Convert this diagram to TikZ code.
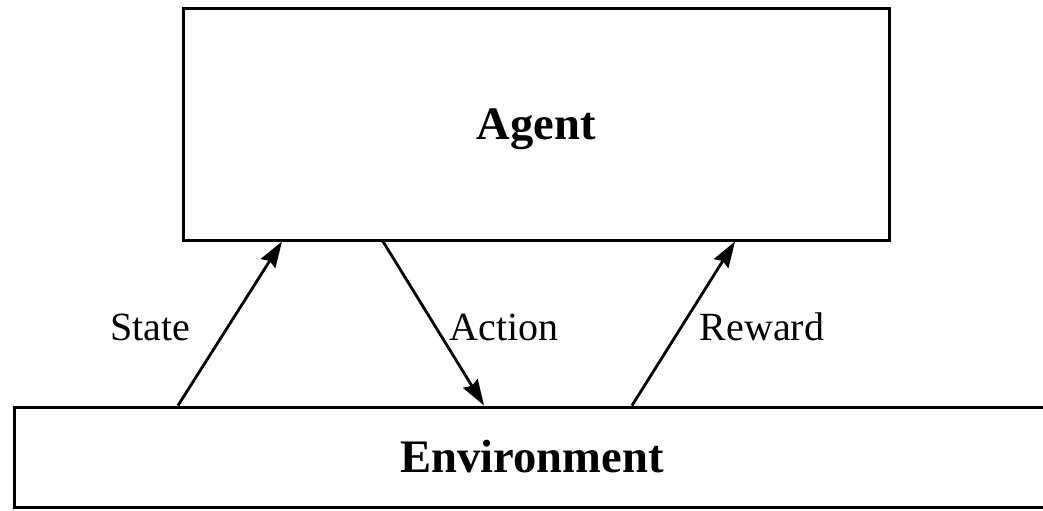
\documentclass[tikz,border=0pt]{standalone}
\usepackage{fontspec}
\setmainfont{Liberation Serif}
\usetikzlibrary{arrows.meta}
\begin{document}
\begin{tikzpicture}[x=0.5pt,y=-0.5pt,
  box/.style={draw, line width=1.5pt, inner sep=0pt,
    font=\fontsize{23.3}{28}\selectfont\bfseries},
  arr/.style={line width=1.4pt,
    -{Stealth[length=13pt,width=8.5pt,inset=1.5pt]}},
  lbl/.style={font=\fontsize{20}{24}\selectfont, inner sep=0pt}]
\useasboundingbox (0,0) rectangle (1043,510);

% the two blocks
\node[box, text depth=0pt, minimum width=353pt, minimum height=116pt] (agent) at (536,124) {Agent};
\node[box, minimum width=518pt, minimum height=50pt] (env) at (532,457) {Environment};

% horizontal anchor positions for the connectors
\coordinate (sA) at (178,0);
\coordinate (sB) at (282,0);
\coordinate (aA) at (383,0);
\coordinate (aB) at (484,0);
\coordinate (rA) at (632,0);
\coordinate (rB) at (735,0);

% connectors
\draw[arr] (env.north -| sA) -- (agent.south -| sB);
\draw[arr] (agent.south -| aA) -- (env.north -| aB);
\draw[arr] (env.north -| rA) -- (agent.south -| rB);

% labels
\node[lbl] (state) at (150,327) {State};
\node[lbl] (action) at (504,327) {Action};
\node[lbl] (reward) at (762,327) {Reward};
\end{tikzpicture}
\end{document}
